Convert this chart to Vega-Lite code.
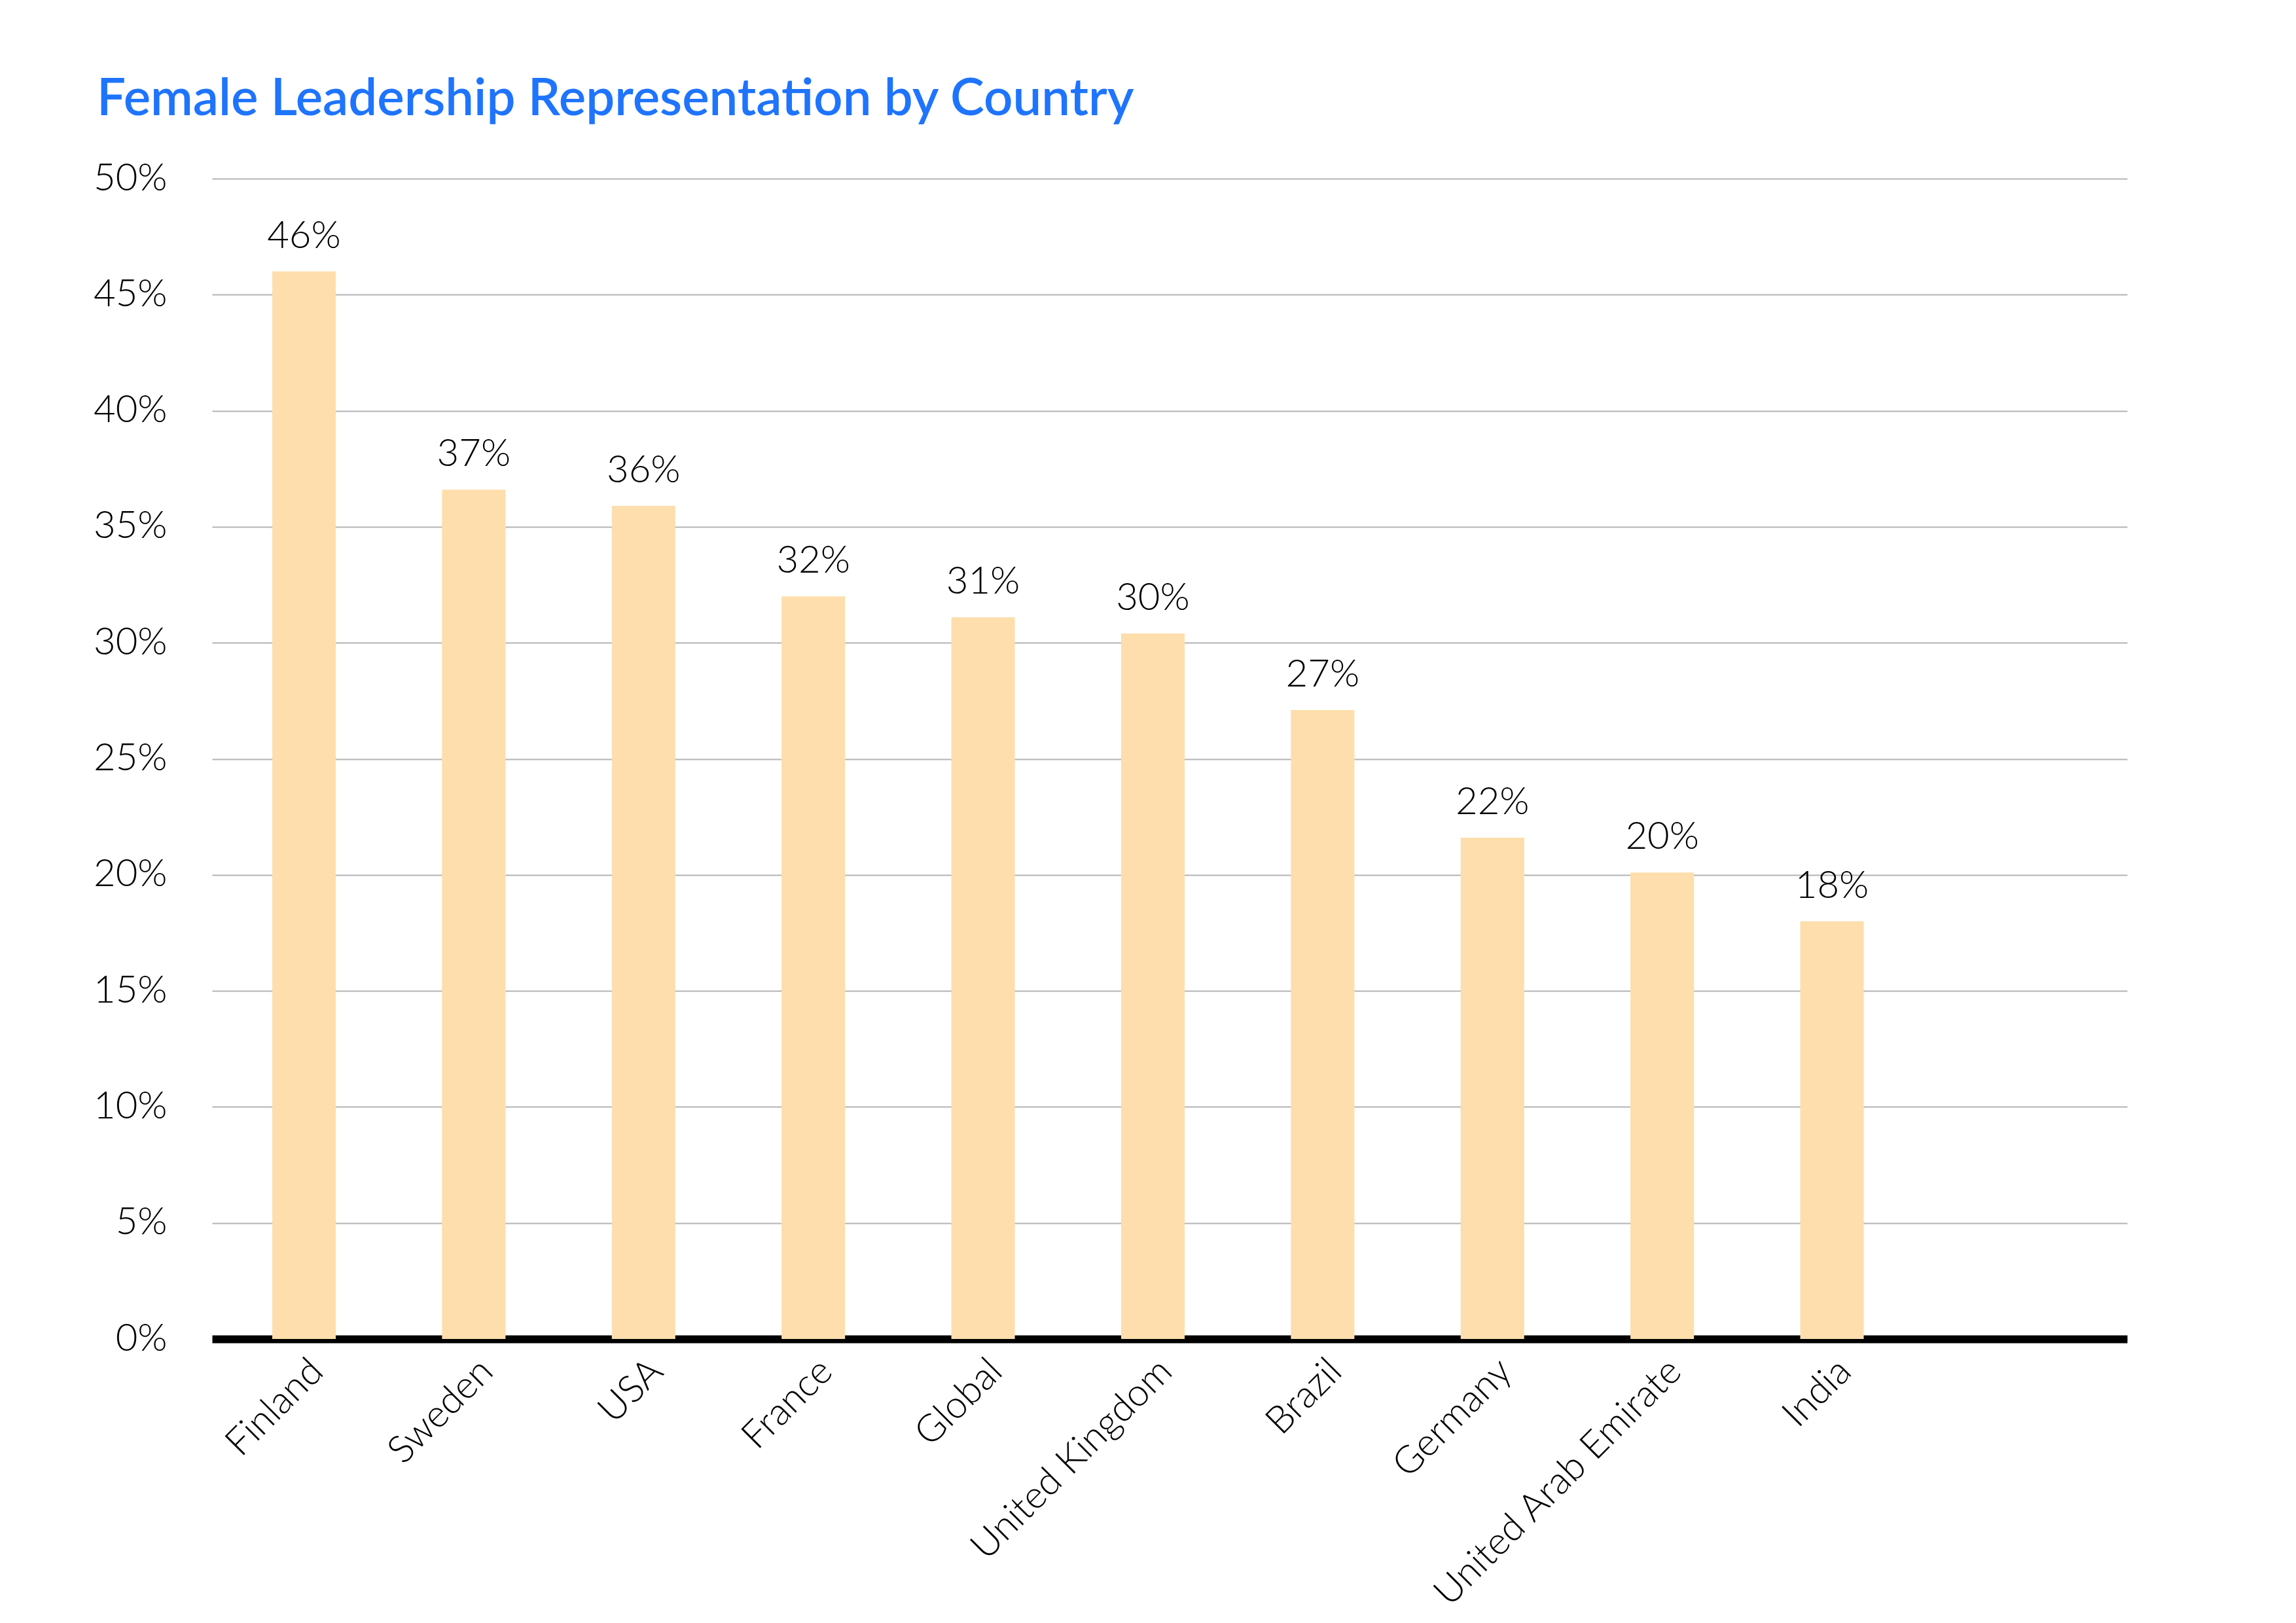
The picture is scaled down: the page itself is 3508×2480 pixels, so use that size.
{
  "$schema": "https://vega.github.io/schema/vega-lite/v6.json",
  "autosize": {"type": "none"},
  "width": 2926,
  "height": 1773,
  "padding": {"left": 324, "top": 273, "right": 258, "bottom": 434},
  "background": "white",
  "title": {
    "text": "Female Leadership Representation by Country",
    "anchor": "start",
    "frame": "group",
    "dx": -176,
    "offset": -10,
    "baseline": "alphabetic",
    "font": "Lato",
    "fontWeight": 600,
    "fontSize": 78,
    "color": "#1E74FD"
  },
  "data": {
    "values": [
      {"country": "Finland", "share": 0.46},
      {"country": "Sweden", "share": 0.366},
      {"country": "USA", "share": 0.359},
      {"country": "France", "share": 0.32},
      {"country": "Global", "share": 0.311},
      {"country": "United Kingdom", "share": 0.304},
      {"country": "Brazil", "share": 0.271},
      {"country": "Germany", "share": 0.216},
      {"country": "United Arab Emirate", "share": 0.201},
      {"country": "India", "share": 0.18}
    ]
  },
  "config": {
    "view": {"stroke": null},
    "axis": {"labelFont": "Lato", "labelFontWeight": 300, "labelColor": "#000000", "labelFontSize": 58, "labelLimit": 0}
  },
  "encoding": {
    "x": {
      "field": "country",
      "type": "nominal",
      "sort": null,
      "scale": {"paddingInner": 0.626, "paddingOuter": 0.953, "align": 0.186},
      "axis": {
        "title": null,
        "labelAngle": -45,
        "labelPadding": 20,
        "labelLimit": 0,
        "ticks": false,
        "tickSize": 0,
        "domain": true,
        "domainColor": "#000000",
        "domainWidth": 12,
        "domainCap": "butt",
        "grid": false
      }
    },
    "y": {
      "field": "share",
      "type": "quantitative",
      "scale": {"domain": [0, 0.5], "nice": false},
      "axis": {
        "title": null,
        "values": [0, 0.05, 0.1, 0.15, 0.2, 0.25, 0.3, 0.35, 0.4, 0.45, 0.5],
        "format": ".0%",
        "domain": false,
        "ticks": false,
        "tickSize": 0,
        "labelPadding": 69,
        "grid": true,
        "gridColor": "#B4B4B4",
        "gridWidth": 2
      }
    }
  },
  "layer": [
    {"mark": {"type": "bar", "color": "#FDDEAC"}},
    {
      "mark": {"type": "text", "baseline": "alphabetic", "dy": -36, "font": "Lato", "fontWeight": 300, "fontSize": 58, "color": "#000000"},
      "encoding": {"text": {"field": "share", "type": "quantitative", "format": ".0%"}}
    }
  ]
}
